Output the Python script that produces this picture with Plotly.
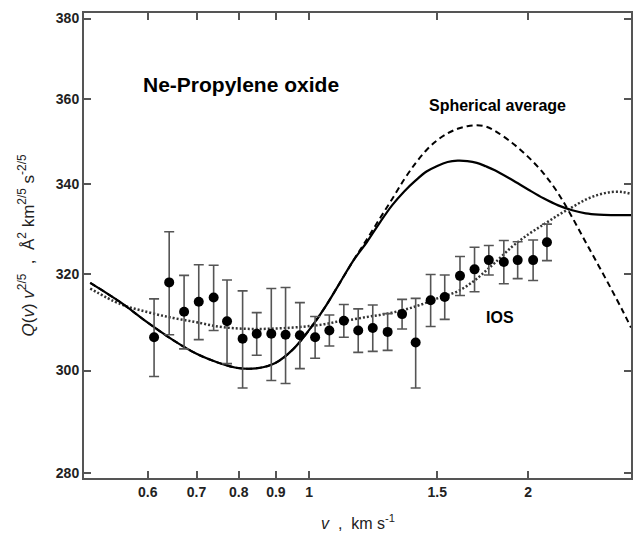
import plotly.graph_objects as go

# ---- experimental points ----
v_exp = [0.612, 0.642, 0.673, 0.705, 0.739, 0.771, 0.810, 0.847, 0.887, 0.928,
         0.971, 1.019, 1.066, 1.116, 1.168, 1.223, 1.282, 1.342, 1.401, 1.469,
         1.536, 1.612, 1.688, 1.766, 1.852, 1.935, 2.032, 2.123]
q_exp = [306.8, 318.3, 312.1, 314.2, 315.1, 310.1, 306.5, 307.5, 307.5, 307.3,
         307.2, 306.8, 308.2, 310.2, 308.2, 308.7, 307.9, 311.6, 305.7, 314.5,
         315.2, 319.7, 321.1, 323.1, 322.7, 323.1, 323.1, 327.0]
q_err = [8.0, 11.0, 7.7, 7.9, 6.9, 8.7, 10.0, 4.4, 9.5, 9.9,
         6.8, 4.3, 3.2, 3.4, 4.5, 4.8, 3.8, 3.1, 9.2, 5.5,
         4.7, 4.2, 4.8, 3.2, 4.7, 4.0, 4.4, 4.0]

# ---- calculated curves ----
v_grid = [0.50, 0.55, 0.60, 0.65, 0.70, 0.75, 0.80, 0.85, 0.90, 0.95,
          1.00, 1.05, 1.10, 1.15, 1.20, 1.25, 1.30, 1.35, 1.40, 1.45,
          1.50, 1.55, 1.60, 1.65, 1.70, 1.75, 1.80, 1.90, 2.00, 2.10,
          2.20, 2.30, 2.40, 2.50, 2.60, 2.70, 2.77]
q_full = [318.2, 314.1, 309.8, 306.2, 303.4, 301.6, 300.5, 300.5, 301.6, 304.3,
          308.3, 312.9, 318.0, 323.0, 327.0, 331.3, 335.2, 338.3, 340.8, 342.9,
          344.2, 345.1, 345.4, 345.3, 344.9, 344.1, 343.2, 341.0, 338.8, 336.8,
          335.2, 334.1, 333.4, 333.1, 333.0, 333.0, 333.0]
q_spherical = [318.2, 314.1, 309.8, 306.2, 303.4, 301.6, 300.5, 300.5, 301.6, 304.3,
               308.3, 312.9, 318.0, 323.0, 327.6, 332.2, 336.6, 341.0, 344.8, 347.9,
               350.2, 351.8, 352.9, 353.5, 353.7, 353.4, 352.4, 349.6, 346.3, 342.5,
               337.9, 332.5, 327.0, 321.9, 317.0, 312.2, 308.8]
q_ios = [317.0, 313.7, 312.0, 310.8, 309.9, 309.0, 308.6, 308.5, 308.6, 308.8,
         309.1, 309.5, 310.1, 310.5, 311.0, 311.4, 311.9, 312.5, 313.2, 314.0,
         314.9, 315.6, 316.4, 317.6, 319.1, 320.8, 322.5, 326.0, 328.7, 330.9,
         333.0, 334.8, 336.5, 337.6, 338.2, 338.2, 337.8]

x_ticks = [0.6, 0.7, 0.8, 0.9, 1, 1.5, 2]
x_ticktext = ["0.6", "0.7", "0.8", "0.9", "1", "1.5", "2"]
y_ticks = [280, 300, 320, 340, 360, 380]
y_ticktext = ["280", "300", "320", "340", "360", "380"]

FONT = "Liberation Sans, Arial, Helvetica, sans-serif"

fig = go.Figure()
fig.add_trace(go.Scatter(x=v_grid, y=q_ios, mode="lines",
                         line=dict(color="#333333", width=2.5, dash="2px,2px", shape="spline"),
                         name="IOS", showlegend=False))
fig.add_trace(go.Scatter(x=v_grid, y=q_spherical, mode="lines",
                         line=dict(color="black", width=2, dash="6px,4px", shape="spline"),
                         name="Spherical average", showlegend=False))
fig.add_trace(go.Scatter(x=v_grid, y=q_full, mode="lines",
                         line=dict(color="black", width=2.2, shape="spline"),
                         name="Full", showlegend=False))
fig.add_trace(go.Scatter(x=v_exp, y=q_exp, mode="markers",
                         marker=dict(color="black", size=10),
                         error_y=dict(type="data", array=q_err, visible=True,
                                      color="#555555", thickness=1.6, width=5),
                         name="Experiment", showlegend=False))

axis_common = dict(showline=True, linecolor="#555555", linewidth=2, mirror="ticks",
                   ticks="inside", ticklen=7, tickwidth=1.5, tickcolor="#555555",
                   showgrid=False, zeroline=False,
                   tickfont=dict(family=FONT, size=14, color="#222222"))

fig.update_xaxes(type="log", range=[-0.3096, 0.4425], tickvals=x_ticks,
                 ticktext=["<b>%s</b>" % t for t in x_ticktext], **axis_common)
fig.update_yaxes(type="log", range=[2.4458, 2.5814], tickvals=y_ticks,
                 ticktext=["<b>%s</b>" % t for t in y_ticktext], **axis_common)

annotations = [
    dict(text="<b>Ne-Propylene oxide</b>", xref="paper", yref="paper", x=0.105, y=0.847,
         xanchor="left", yanchor="middle", showarrow=False,
         font=dict(family=FONT, size=21, color="black")),
    dict(text="<b>Spherical average</b>", xref="paper", yref="paper", x=0.6266, y=0.802,
         xanchor="left", yanchor="middle", showarrow=False,
         font=dict(family=FONT, size=16, color="black")),
    dict(text="<b>IOS</b>", xref="paper", yref="paper", x=0.7304, y=0.346,
         xanchor="left", yanchor="middle", showarrow=False,
         font=dict(family=FONT, size=16, color="black")),
    dict(text="<i>v</i>  ,  km s<sup>-1</sup>", xref="paper", yref="paper", x=0.5, y=0,
         yshift=-44, xanchor="center", yanchor="middle", showarrow=False,
         font=dict(family=FONT, size=16, color="#222222")),
    dict(text="<i>Q</i>(<i>v</i>) <i>v</i><sup>2/5</sup>  ,  Å<sup>2</sup> km<sup>2/5</sup> s<sup>-2/5</sup>",
         xref="paper", yref="paper", x=0, y=0.5, xshift=-58, textangle=-90,
         xanchor="center", yanchor="middle", showarrow=False,
         font=dict(family=FONT, size=17, color="#222222")),
]

fig.update_layout(width=638, height=533, margin=dict(l=84, r=5, t=13, b=55),
                  plot_bgcolor="white", paper_bgcolor="white",
                  annotations=annotations, showlegend=False)

fig.write_html("out.html", config={"displayModeBar": False},
               post_script="document.body.style.margin='0px';document.body.style.padding='0px';")
